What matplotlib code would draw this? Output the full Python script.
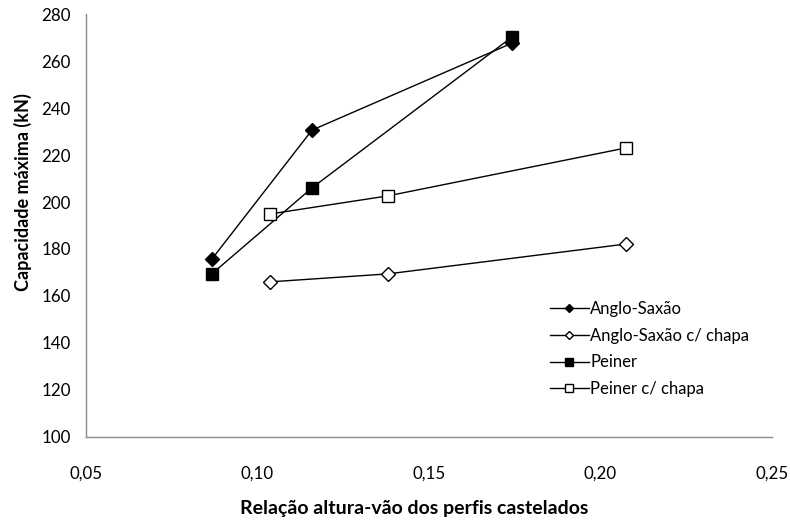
import matplotlib
matplotlib.use("Agg")
import matplotlib.pyplot as plt
from matplotlib.ticker import FixedLocator, FuncFormatter

plt.rcParams['font.family'] = ['Lato', 'DejaVu Sans']

x_vals = [0.0867, 0.1159, 0.1742]
x_chapa = [0.1036, 0.1380, 0.2074]

anglo = [175.7, 230.6, 267.6]
anglo_chapa = [166.0, 169.4, 182.1]
peiner = [169.4, 206.0, 270.2]
peiner_chapa = [194.9, 202.6, 223.0]

labels = ["Anglo-Saxão", "Anglo-Saxão c/ chapa", "Peiner", "Peiner c/ chapa"]
xticks = [0.05, 0.10, 0.15, 0.20, 0.25]
yticks = [100, 120, 140, 160, 180, 200, 220, 240, 260, 280]

fig = plt.figure(figsize=(7.9, 5.22), dpi=100)
ax = fig.add_axes([0.1089, 0.163, 0.868, 0.810])

dms = 7.0
sms = 8.3
ax.plot(x_vals, anglo, color='black', lw=1.0, marker='D', ms=dms,
        mfc='black', mec='black', mew=1.0, label=labels[0], zorder=3)
ax.plot(x_chapa, anglo_chapa, color='black', lw=1.0, marker='D', ms=dms,
        mfc='white', mec='black', mew=1.0, label=labels[1], zorder=3)
ax.plot(x_vals, peiner, color='black', lw=1.0, marker='s', ms=sms,
        mfc='black', mec='black', mew=1.0, label=labels[2], zorder=3)
ax.plot(x_chapa, peiner_chapa, color='black', lw=1.0, marker='s', ms=sms,
        mfc='white', mec='black', mew=1.0, label=labels[3], zorder=3)

ax.set_xlim(0.05, 0.25)
ax.set_ylim(100, 280)
ax.xaxis.set_major_locator(FixedLocator(xticks))
ax.yaxis.set_major_locator(FixedLocator(yticks))
ax.xaxis.set_major_formatter(FuncFormatter(lambda v, p: f"{v:.2f}".replace('.', ',')))
ax.yaxis.set_major_formatter(FuncFormatter(lambda v, p: f"{int(round(v))}"))

for s in ['top', 'right']:
    ax.spines[s].set_visible(False)
for s in ['left', 'bottom']:
    ax.spines[s].set_color('#8c8c8c')
    ax.spines[s].set_linewidth(1.0)

ax.tick_params(axis='both', length=0, labelsize=12.2, colors='black')
ax.tick_params(axis='x', pad=21)
ax.tick_params(axis='y', pad=11)

ax.set_xlabel("Relação altura-vão dos perfis castelados", fontsize=14,
              fontweight='bold', va='center')
ax.set_ylabel("Capacidade máxima (kN)", fontsize=13, fontweight='bold', va='center')
ax.xaxis.set_label_coords(0.478, -0.170)
ax.yaxis.set_label_coords(-0.092, 0.58)

leg = ax.legend(loc='upper left', bbox_to_anchor=(0.677, 0.322), frameon=False,
                fontsize=12, markerscale=0.65, handlelength=2.3, handletextpad=0.1,
                labelspacing=0.65, borderaxespad=0, borderpad=0)

fig.savefig("out.png", dpi=100)
